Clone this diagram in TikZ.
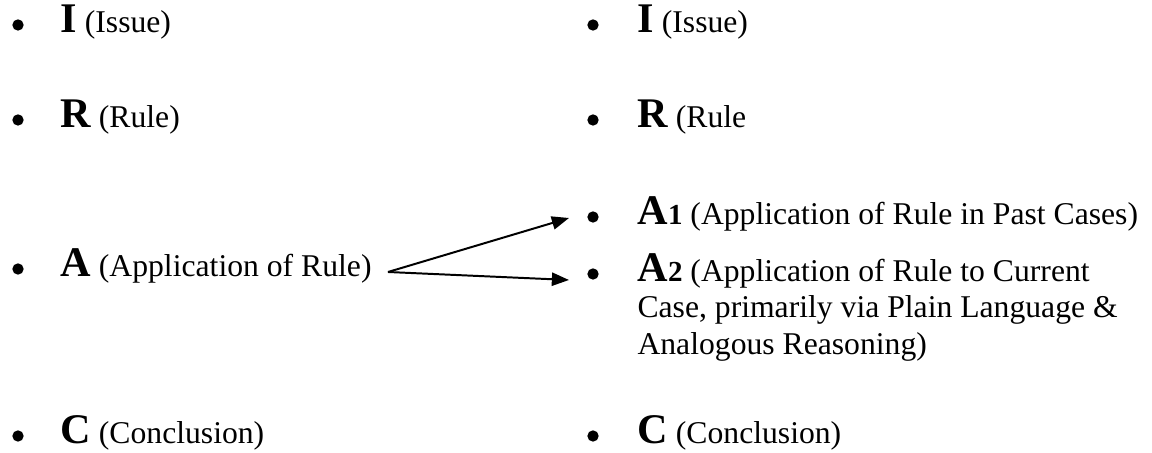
\documentclass[tikz,border=0pt]{standalone}
\usepackage{fontspec}
\setmainfont{Liberation Serif}
\usetikzlibrary{arrows.meta}
\tikzset{
    item/.style={anchor=base west, inner sep=0pt, font=\fontsize{12}{13.8}\selectfont},
    dot/.style={circle, fill, inner sep=0pt, minimum size=4.3pt},
    link/.style={line width=.75pt, -{Triangle[length=6.5pt,width=5pt]}}
}
\newcommand{\ltr}[1]{{\fontsize{16}{16}\selectfont\bfseries #1}}
\newcommand{\idx}[1]{{\fontsize{11}{11}\selectfont\bfseries #1}}
\begin{document}
\begin{tikzpicture}[x=.379pt, y=-.379pt]
                \useasboundingbox (0,0) rectangle (1152,453);
                % left column
                \foreach \y/\l/\t/\n in {33/I/Issue/i, 128/R/Rule/r, 277/A/Application of Rule/a, 444/C/Conclusion/c}
                {
                    \node[dot] (ldot\n) at (18,\y-8) {};
                    \node[item] (left\n) at (60,\y) {\ltr{\l} (\t)};
                }
                % right column
                \foreach \y/\n in {33/i, 128/r, 225/aone, 282/atwo, 444/c}
                {
                    \node[dot] (rdot\n) at (593,\y-8) {};
                }
                \node[item] (righti) at (637,33) {\ltr{I} (Issue)};
                \node[item] (rightr) at (637,128) {\ltr{R} (Rule};
                \node[item] (rightaone) at (637,225) {\ltr{A}\idx{1} (Application of Rule in Past Cases)};
                \node[item] (rightatwo) at (637,282) {\ltr{A}\idx{2} (Application of Rule to Current};
                \node[item] (rightatwob) at (637,318) {Case, primarily via Plain Language \&};
                \node[item] (rightatwoc) at (637,355) {Analogous Reasoning)};
                \node[item] (rightc) at (637,444) {\ltr{C} (Conclusion)};
                % arrows
                \coordinate (fork) at (388,272);
                \coordinate (tipaone) at (569,218);
                \coordinate (tipatwo) at (569,280);
                \draw[link] (fork) -- (tipaone);
                \draw[link] (fork) -- (tipatwo);
            \end{tikzpicture}
\end{document}
